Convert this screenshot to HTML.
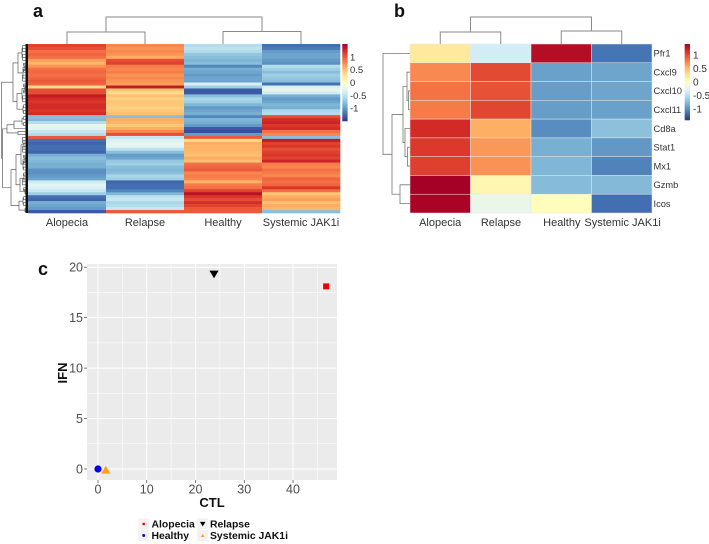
<!DOCTYPE html>
<html>
<head>
<meta charset="utf-8">
<title>Heatmaps and scatter plot</title>
<style>
html,body{margin:0;padding:0;background:#fff;width:709px;height:544px;overflow:hidden}
svg{display:block;font-family:"Liberation Sans",sans-serif}
</style>
</head>
<body>
<svg id="fig" width="709" height="544" viewBox="0 0 709 544" xmlns="http://www.w3.org/2000/svg">
  <text x="33" y="17" font-size="18" font-weight="bold" fill="#111">a</text>
  <text x="394" y="17" font-size="18" font-weight="bold" fill="#111">b</text>
  <text x="38" y="275" font-size="18" font-weight="bold" fill="#111">c</text>
</svg>
<script>
const heatAColumns = ["Alopecia", "Relapse", "Healthy", "Systemic JAK1i"];
const heatAAlopecia = [1.0,.95,.8,.85,.8,.6,.5,.65,.8,.85,.8,.85,.9,.85,.3,.95,.95,1.2,1.1,1.05,1.1,1.1,1.05,1.1,-.7,-.75,-.5,-.2,-.25,-.4,-.5,.9,-1.1,-1.15,-1.1,-1.1,-1.15,-.8,-.7,-.75,-.8,-.8,-.95,-.95,-.9,-.85,-.35,-.25,-.3,-.4,-.6,-1.1,-1.15,-.8,-.85,-.9,-1.2];
const heatARelapse = [.7,.65,.7,.65,.55,.95,1.0,.75,.7,.75,.65,.7,.65,.6,1.2,.4,.3,.45,.35,.42,.4,.35,.4,.45,-.7,.55,.5,.4,.55,.7,.95,-.4,-.3,-.2,-.25,-.45,-.7,-.9,-.85,-.65,-.6,-.7,-.75,-.7,-.55,-.6,-1.15,-1.1,-1.1,-1.0,-.75,-.45,-.4,-.55,-.5,-.4,.9];
const heatAHealthy = [-.5,-.45,-.5,-.65,-.7,-.75,-.7,-1.0,-.8,-.85,-.9,-.85,-.85,-.3,-.6,-1.2,-1.2,-.7,-.55,-.6,-.75,-.9,-.85,-.8,-1.0,-.75,-.8,-.9,-1.2,-1.25,-.9,.9,.3,.55,.5,.52,.48,.45,.55,.45,.8,.85,.9,.7,.75,.7,.5,.75,.8,1.0,1.25,1.05,.95,1.1,1.0,.9,.9];
const heatAJak = [-1.1,-1.05,-.9,-.85,-.85,-.9,-.95,-.5,-.6,-.7,-.6,-.65,-.7,-1.1,-.3,-.2,-.35,-.8,-.9,-.85,-.75,-.8,-.55,-.5,.95,1.1,1.15,1.05,1.1,.8,.7,-.7,1.2,1.0,1.05,.95,1.0,1.05,1.0,1.15,.75,.7,.8,.75,.7,.85,.8,.85,1.05,.8,.4,.55,.6,.45,.55,.5,-.7];
const heatATicks = [1, 0.5, 0, -0.5, -1];
const heatARowTree = [26.5,[15,[10,[6,3,3],[5,[3,2,2],3]],[11,[6,[3,2,2],3],[5,2,2]]],[25.5,[21,[14,[6,2,2],1],[10,1,1]],[17,[12,[7,[4,3,3],[5,[3,2,2],2]],[8,[4,2,3],[3,2,1]]],[9,[5,2,2],[3,1,1]]]]];
const heatAColTree = [27,[12,1,1],[12.5,1,1]];

const heatBColumns = ["Alopecia", "Relapse", "Healthy", "Systemic JAK1i"];
const heatBRows = ["Pfr1","Cxcl9","Cxcl10","Cxcl11","Cd8a","Stat1","Mx1","Gzmb","Icos"];
const heatBAlopecia = [.2,.72,.82,.78,1.15,1.08,1.05,1.4,1.38];
const heatBRelapse = [-.35,1.0,.97,1.02,.55,.65,.68,.08,-.2];
const heatBHealthy = [1.32,-.9,-.92,-.92,-1.0,-.82,-.78,-.75,.02];
const heatBJak = [-1.12,-.88,-.88,-.9,-.72,-.95,-1.05,-.76,-1.15];
const heatBTicks = [1, 0.5, 0, -0.5, -1];
const heatBRowTree = [27,1,[18,[7,[3,1,[1.5,1,1]],[5,1,[2.5,1,1]]],[10,1,1]]];
const heatBColTree = [27,[12,1,1],[13,1,1]];

const scatterGroups = ["Alopecia","Relapse","Healthy","Systemic JAK1i"];
const scatterCTL = [46.8,23.8,0,1.6];
const scatterIFN = [18.1,19.3,0,-0.1];
const scatterXTicks = [0,10,20,30,40];
const scatterYTicks = [0,5,10,15,20];

const ramp = ["#313695","#4575B4","#74ADD1","#ABD9E9","#E0F3F8","#FFFFBF","#FEE090","#FDAE61","#F46D43","#D73027","#A50026"];
const svg = document.getElementById("fig");
const NS = "http://www.w3.org/2000/svg";

function mk(tag, props, text) {
  const el = document.createElementNS(NS, tag);
  for (const k in props) el.setAttribute(k, props[k]);
  if (text !== undefined) el.textContent = text;
  svg.appendChild(el);
  return el;
}
function hex(c){return [1,3,5].map(i=>parseInt(c.substr(i,2),16));}
function colour(v, max) {
  const t = Math.max(0, Math.min(1, (v + max) / (2 * max))) * (ramp.length - 1);
  const i = Math.min(ramp.length - 2, Math.floor(t));
  const f = t - i, a = hex(ramp[i]), b = hex(ramp[i + 1]);
  return "rgb(" + a.map((x, j) => Math.round(x + (b[j] - x) * f)).join(",") + ")";
}
function leafCount(n){return Array.isArray(n) ? leafCount(n[1]) + leafCount(n[2]) : n;}
function treePath(node, start, unit, origin, base, horizontal, out) {
  if (!Array.isArray(node)) {
    const c = origin + (start + node / 2) * unit;
    if (node > 1 && horizontal) {
      /* a multi-row leaf fans out into a small comb toward the heatmap */
      const top = origin + start * unit + unit / 2;
      const depth = 2.5 + node;
      out.push("M" + (base - depth) + " " + top + "V" + (top + (node - 1) * unit));
      for (let i = 0; i < node; i++) out.push("M" + (base - depth) + " " + (top + i * unit) + "H" + base);
      return {c: c, h: depth};
    }
    return {c: c, h: 0};
  }
  const ln = leafCount(node[1]);
  const l = treePath(node[1], start, unit, origin, base, horizontal, out);
  const r = treePath(node[2], start + ln, unit, origin, base, horizontal, out);
  const h = node[0];
  if (horizontal) out.push("M" + (base - l.h) + " " + l.c + "H" + (base - h) + "V" + r.c + "H" + (base - r.h));
  else out.push("M" + l.c + " " + (base - l.h) + "V" + (base - h) + "H" + r.c + "V" + (base - r.h));
  return {c: (l.c + r.c) / 2, h: h};
}
function drawTree(tree, unit, origin, base, horizontal, name, stroke, width) {
  const out = [];
  treePath(tree, 0, unit, origin, base, horizontal, out);
  const p = mk("path", {d: out.join(""), fill: "none", stroke: stroke, "stroke-width": width});
  
  
}
function drawHeat(cols, x0, y0, cw, rh, max, sep, prefix) {
  cols.forEach((col, c) => col.forEach((v, r) => {
    const props = {x: x0 + c * cw, y: y0 + r * rh, width: cw + (sep ? 0 : .3), height: rh + (sep ? 0 : .3), fill: colour(v, max)};
    if (sep) { props.stroke = "#e8e8e8"; props["stroke-width"] = .5; }
    const cell = mk("rect", props);
    
    
  }));
}
function drawBar(x, y0, y1, max, ticks, labelX, size, prefix) {
  const n = 60, h = (y1 - y0) / n;
  for (let i = 0; i < n; i++) {
    const seg = mk("rect", {x: x, y: y0 + i * h, width: 5.3, height: h + .3, fill: colour(max - (i + .5) / n * 2 * max, max)});
    
    
  }
  ticks.forEach(t => {
    const y = y0 + (max - t) / (2 * max) * (y1 - y0);
    const lab = mk("text", {x: labelX, y: y + 3.5, "font-size": size, fill: "#333"}, String(t));
    
    
  });
}

/* Panel a */
const aCols = [heatAAlopecia, heatARelapse, heatAHealthy, heatAJak];
const aRowH = 169 / heatAAlopecia.length;
drawHeat(aCols, 28, 44, 78, aRowH, 1.35, false, "heatmap-a");
drawTree(heatARowTree, aRowH, 44, 28, true, "heatmap-a-row-dendrogram", "#444", .6);
const strip = mk("rect", {x: 25.5, y: 44, width: 2.5, height: 169, fill: "#111"});


drawTree(heatAColTree, 78, 28, 44, false, "heatmap-a-column-dendrogram", "#8a8a8a", 1);
heatAColumns.forEach((t, i) => {
  const lab = mk("text", {x: 67 + i * 78, y: 226, "font-size": 11, "text-anchor": "middle", fill: "#333"}, t);
  
  
});
drawBar(342.3, 44, 121, 1.5, heatATicks, 350, 9.5, "heatmap-a");

/* Panel b */
const bCols = [heatBAlopecia, heatBRelapse, heatBHealthy, heatBJak];
const bRowH = 169 / heatBRows.length;
drawHeat(bCols, 410, 44, 60.5, bRowH, 1.4, true, "heatmap-b");
drawTree(heatBRowTree, bRowH, 44, 410, true, "heatmap-b-row-dendrogram", "#777", .8);
drawTree(heatBColTree, 60.5, 410, 44, false, "heatmap-b-column-dendrogram", "#8a8a8a", 1);
heatBColumns.forEach((t, i) => {
  const lab = mk("text", {x: 440.2 + i * 60.8, y: 226, "font-size": 11, "text-anchor": "middle", fill: "#333"}, t);
  
  
});
heatBRows.forEach((t, i) => {
  const lab = mk("text", {x: 653.5, y: 44 + (i + .5) * bRowH + 3.3, "font-size": 9.3, fill: "#333"}, t);
  
  
});
drawBar(684.7, 44, 120, 1.4, heatBTicks, 693, 10, "heatmap-b");

/* Panel c */
const sx = v => 98 + v * 4.875;
const sy = v => 469 - v * 10.09;
const panel = mk("rect", {x: 87, y: 264, width: 250, height: 216, fill: "#EBEBEB"});


scatterXTicks.forEach(t => {
  const minor = mk("line", {x1: sx(t + 5), x2: sx(t + 5), y1: 264, y2: 480, stroke: "#fff", "stroke-width": .5});
  
  
  const major = mk("line", {x1: sx(t), x2: sx(t), y1: 264, y2: 480, stroke: "#fff", "stroke-width": 1});
  
  
  const tick = mk("line", {x1: sx(t), x2: sx(t), y1: 480, y2: 483, stroke: "#444", "stroke-width": .7});
  
  
  const lab = mk("text", {x: sx(t), y: 493.5, "font-size": 12.5, "text-anchor": "middle", fill: "#4D4D4D"}, String(t));
  
  
});
scatterYTicks.forEach(t => {
  if (t < 20) {
    const minor = mk("line", {x1: 87, x2: 337, y1: sy(t + 2.5), y2: sy(t + 2.5), stroke: "#fff", "stroke-width": .5});
    
    
  }
  const major = mk("line", {x1: 87, x2: 337, y1: sy(t), y2: sy(t), stroke: "#fff", "stroke-width": 1});
  
  
  const tick = mk("line", {x1: 84, x2: 87, y1: sy(t), y2: sy(t), stroke: "#444", "stroke-width": .7});
  
  
  const lab = mk("text", {x: 83, y: sy(t) + 4.4, "font-size": 12.5, "text-anchor": "end", fill: "#4D4D4D"}, String(t));
  
  
});
function marker(group, x, y, k) {
  let el;
  if (group === 0) el = mk("rect", {x: x - 3 * k, y: y - 3 * k, width: 6 * k, height: 6 * k, fill: "#F00000"});
  if (group === 1) el = mk("path", {d: "M" + (x - 4.6 * k) + " " + (y - 3.6 * k) + "h" + 9.2 * k + "l" + (-4.6 * k) + " " + 7.6 * k + "z", fill: "#000"});
  if (group === 2) el = mk("circle", {cx: x, cy: y, r: 3.6 * k, fill: "#0000E6"});
  if (group === 3) el = mk("path", {d: "M" + (x - 4.6 * k) + " " + (y + 3.6 * k) + "h" + 9.2 * k + "l" + (-4.6 * k) + " " + (-7.8 * k) + "z", fill: "#FF9F14"});
  return el;
}
scatterGroups.forEach((g, i) => {
  const m = marker(i, sx(scatterCTL[i]), sy(scatterIFN[i]), 1);
  
  
});
const xTitle = mk("text", {x: 212, y: 507, "font-size": 13, "font-weight": "bold", "text-anchor": "middle", fill: "#111"}, "CTL");


const yTitle = mk("text", {transform: "translate(67 373) rotate(-90)", "font-size": 13, "font-weight": "bold", "text-anchor": "middle", fill: "#111"}, "IFN");



/* Legend: two columns, two rows */
scatterGroups.forEach((g, i) => {
  const col = i === 0 || i === 2 ? 0 : 1;
  const row = i < 2 ? 0 : 1;
  const kx = col ? 202.7 : 143.7;
  const ky = row ? 535.5 : 524;
  const bg = mk("rect", {x: kx - 5.5, y: ky - 5.5, width: 11, height: 11, fill: "#F2F2F2"});
  
  
  const m = marker(i, kx, ky, i === 1 ? .6 : .4);
  
  
  const lab = mk("text", {x: col ? 210 : 151.5, y: ky + 3.6, "font-size": 10.4, "font-weight": "bold", fill: "#111"}, g);
  
  
});
</script>
</body>
</html>
